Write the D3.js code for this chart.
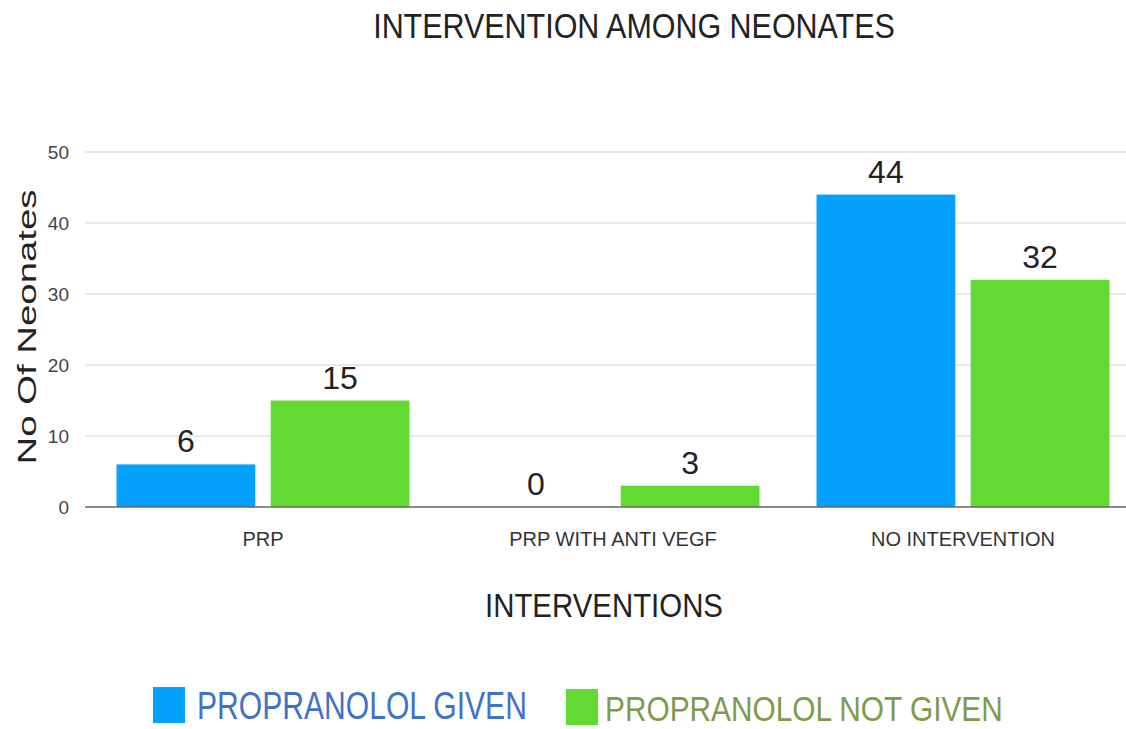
<!DOCTYPE html>
<html>
<head>
<meta charset="utf-8">
<script src="https://cdn.jsdelivr.net/npm/d3@7"></script>
<style>
  body { margin: 0; background: #fff; }
  text { font-family: "Liberation Sans", Arial, sans-serif; }
</style>
</head>
<body>
<script>
let categories = ["PRP", "PRP WITH ANTI VEGF", "NO INTERVENTION"];
let seriesNames = ["PROPRANOLOL GIVEN", "PROPRANOLOL NOT GIVEN"];
let given = [6, 0, 44];
let notGiven = [15, 3, 32];
let yTicks = [0, 10, 20, 30, 40, 50];

let barColors = ["#03a1fb", "#63d934"];
let legendText = ["#3f72c8", "#7e9a4c"];

let rows = categories.map(function (c, i) {
    return { cat: c, values: [given[i], notGiven[i]] };
});

let svg = d3.select("body").append("svg")
    .attr("width", 1126)
    .attr("height", 729);

let x0 = d3.scaleBand().domain(categories).range([88, 1138])
    .paddingInner(0.163).paddingOuter(0.0815);
let x1 = d3.scaleBand().domain([0, 1]).range([0, x0.bandwidth()]).paddingInner(0.1);
let y = d3.scaleLinear().domain([0, 50]).range([507, 152]);

// the original uses a condensed face, so squeeze long labels to their width
function label(g, txt, pos, size, len, anchor) {
    let t = g.append("text")
        .attr("text-anchor", anchor || "middle")
        .attr("font-size", size)
        .attr("fill", "#222")
        .text(txt);
    let s = len / t.node().getComputedTextLength();
    t.attr("transform", pos + " scale(" + s + ",1)");
    return t;
}

// grid
svg.append("g").selectAll("line")
    .data(yTicks.slice(1))
    .enter().append("line")
    .attr("x1", 85).attr("x2", 1126)
    .attr("y1", function (d) { return y(d); })
    .attr("y2", function (d) { return y(d); })
    .attr("stroke", "#e2e2e2").attr("stroke-width", 1.5);

// y tick labels
svg.append("g").selectAll("text")
    .data(yTicks)
    .enter().append("text")
    .attr("x", 69)
    .attr("y", function (d) { return y(d) + 7; })
    .attr("text-anchor", "end")
    .attr("font-size", 19)
    .attr("fill", "#444")
    .text(function (d) { return d; });

// bars
let groups = svg.append("g").selectAll("g")
    .data(rows)
    .enter().append("g")
    .attr("transform", function (d) { return "translate(" + x0(d.cat) + ",0)"; });

groups.selectAll("rect")
    .data(function (d) { return d.values; })
    .enter().append("rect")
    .attr("x", function (d, i) { return x1(i); })
    .attr("y", function (d) { return y(d); })
    .attr("width", x1.bandwidth())
    .attr("height", function (d) { return y(0) - y(d); })
    .attr("fill", function (d, i) { return barColors[i]; });

groups.selectAll("text")
    .data(function (d) { return d.values; })
    .enter().append("text")
    .attr("x", function (d, i) { return x1(i) + x1.bandwidth() / 2; })
    .attr("y", function (d) { return y(d) - 12; })
    .attr("text-anchor", "middle")
    .attr("font-size", 32)
    .attr("fill", "#222")
    .text(function (d) { return d; });

// baseline
svg.append("line")
    .attr("x1", 85).attr("x2", 1126)
    .attr("y1", y(0)).attr("y2", y(0))
    .attr("stroke", "#666").attr("stroke-width", 1.5);

// x labels
svg.append("g").selectAll("text")
    .data(categories)
    .enter().append("text")
    .attr("x", function (d) { return x0(d) + x0.bandwidth() / 2; })
    .attr("y", 546)
    .attr("text-anchor", "middle")
    .attr("font-size", 20)
    .attr("fill", "#333")
    .text(function (d) { return d; });

// titles
label(svg, "INTERVENTION AMONG NEONATES", "translate(634,38)", 36, 522);
label(svg, "INTERVENTIONS", "translate(604,617)", 33, 238);
label(svg, "No Of Neonates", "translate(36,327) rotate(-90)", 26, 275);

// legend
let legendX = [153, 566];
let legendLen = [330, 398];
let legendSize = [38, 36];
let legendBase = [32, 32];

let legend = svg.append("g").selectAll("g")
    .data(seriesNames)
    .enter().append("g")
    .attr("transform", function (d, i) { return "translate(" + legendX[i] + "," + (687 + i * 2) + ")"; });

legend.append("rect")
    .attr("width", 32).attr("height", 36)
    .attr("fill", function (d, i) { return barColors[i]; });

legend.each(function (d, i) {
    label(d3.select(this), d, "translate(" + (44 - 5 * i) + "," + legendBase[i] + ")",
        legendSize[i], legendLen[i], "start")
        .attr("fill", legendText[i]);
});
</script>
</body>
</html>
